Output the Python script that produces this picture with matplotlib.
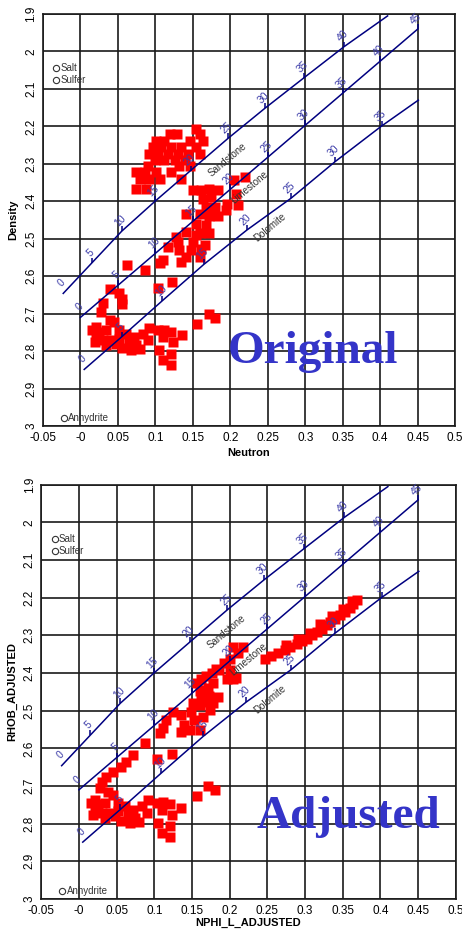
import matplotlib.pyplot as plt

plt.rcParams['font.family'] = ['Liberation Sans', 'DejaVu Sans']

####################
# lithology lines  #
####################
ss_lab = ['0', '5', '10', '15', '20', '25', '30', '35', '40', '']
ss_nphi = [-0.023, 0.015, 0.055, 0.0995, 0.147, 0.197, 0.246, 0.2985, 0.352, 0.41]
ss_rhob = [2.646, 2.565, 2.48, 2.40, 2.318, 2.232, 2.152, 2.07, 1.987, 1.905]

ls_lab = ['0', '5', '10', '15', '20', '25', '30', '35', '40', '45']
ls_nphi = [0.0, 0.05, 0.10, 0.15, 0.20, 0.25, 0.30, 0.35, 0.40, 0.45]
ls_rhob = [2.71, 2.6245, 2.539, 2.4535, 2.368, 2.2825, 2.197, 2.1115, 2.026, 1.9405]

dol_lab = ['0', '5', '10', '15', '20', '25', '30', '35', '']
dol_nphi = [0.005, 0.055, 0.109, 0.165, 0.222, 0.281, 0.340, 0.402, 0.451]
dol_rhob = [2.849, 2.762, 2.666, 2.568, 2.477, 2.392, 2.294, 2.199, 2.13]

lith_names = ['Sandstone', 'Limestone', 'Dolomite']
lith_nphi = [0.196, 0.225, 0.253]
lith_rhob = [2.29, 2.363, 2.469]

mineral_names = ['Salt', 'Sulfer', 'Anhydrite']
mineral_nphi = [-0.032, -0.032, -0.022]
mineral_rhob = [2.045, 2.076, 2.98]

####################
# original data    #
####################
upper_nphi = [0.154, 0.119, 0.129, 0.159, 0.101, 0.112, 0.146, 0.163, 0.097, 0.108,
              0.121, 0.134, 0.154, 0.092, 0.103, 0.117, 0.130, 0.143, 0.159, 0.099,
              0.112, 0.126, 0.139, 0.090, 0.132, 0.146, 0.074, 0.086, 0.101, 0.121,
              0.079, 0.092, 0.106, 0.134, 0.074, 0.088]
upper_rhob = [2.207, 2.220, 2.220, 2.220, 2.238, 2.238, 2.238, 2.238, 2.256, 2.256,
              2.256, 2.256, 2.256, 2.274, 2.274, 2.274, 2.274, 2.274, 2.274, 2.291,
              2.291, 2.291, 2.291, 2.305, 2.305, 2.305, 2.322, 2.322, 2.322, 2.322,
              2.340, 2.340, 2.340, 2.340, 2.367, 2.367]

mid_nphi = [0.150, 0.161, 0.172, 0.183, 0.219, 0.205, 0.210, 0.194, 0.163, 0.174,
            0.168, 0.179, 0.141, 0.159, 0.172, 0.183, 0.154, 0.168, 0.141, 0.159,
            0.172, 0.150, 0.166, 0.130, 0.117, 0.132, 0.141, 0.134, 0.159, 0.106,
            0.207, 0.195, 0.128, 0.154, 0.148, 0.110, 0.161, 0.062, 0.086, 0.122,
            0.103]
mid_rhob = [2.369, 2.371, 2.366, 2.371, 2.336, 2.342, 2.411, 2.423, 2.393, 2.389,
            2.415, 2.415, 2.433, 2.433, 2.438, 2.438, 2.460, 2.464, 2.482, 2.486,
            2.486, 2.509, 2.518, 2.509, 2.522, 2.531, 2.549, 2.562, 2.549, 2.566,
            2.380, 2.408, 2.496, 2.491, 2.531, 2.558, 2.527, 2.570, 2.584, 2.616,
            2.631]

arc_nphi = [0.039, 0.051, 0.056, 0.055, 0.030, 0.028]
arc_rhob = [2.634, 2.645, 2.660, 2.675, 2.672, 2.696]

# points below ~2.7 g/cc, same in both plots
low_nphi = [0.039, 0.045, 0.021, 0.025, 0.034, 0.021, 0.030, 0.041, 0.034, 0.052,
            0.061, 0.052, 0.065, 0.072, 0.074, 0.083, 0.092, 0.090, 0.103, 0.112,
            0.121, 0.110, 0.123, 0.136, 0.105, 0.121, 0.110, 0.121, 0.048, 0.016,
            0.019, 0.056, 0.068, 0.080, 0.156, 0.171, 0.180]
low_rhob = [2.716, 2.723, 2.736, 2.749, 2.745, 2.763, 2.771, 2.771, 2.785, 2.745,
            2.754, 2.767, 2.776, 2.763, 2.785, 2.754, 2.738, 2.771, 2.745, 2.743,
            2.749, 2.763, 2.776, 2.758, 2.798, 2.807, 2.825, 2.836, 2.780, 2.745,
            2.776, 2.792, 2.797, 2.795, 2.727, 2.700, 2.711]

####################
# adjusted data    #
####################
band_nphi = [0.2465, 0.2554, 0.2643, 0.2732, 0.2798, 0.2887, 0.2954, 0.302, 0.3087, 0.3153,
             0.322, 0.3287, 0.3331, 0.3398, 0.3464, 0.3531, 0.3597, 0.3642, 0.3686,
             0.2754, 0.2909, 0.3065, 0.3198, 0.3353, 0.3509, 0.362]
band_rhob = [2.3637, 2.3549, 2.3478, 2.339, 2.3301, 2.3239, 2.3151, 2.3089, 2.30, 2.2912,
             2.2823, 2.2735, 2.2646, 2.2558, 2.2469, 2.2381, 2.2266, 2.2177, 2.2062,
             2.3266, 2.3106, 2.2947, 2.2708, 2.2487, 2.2292, 2.2089]

adj_mid_nphi = [0.218, 0.211, 0.200, 0.193, 0.209, 0.196, 0.182, 0.176, 0.169, 0.162,
                0.156, 0.178, 0.171, 0.160, 0.173, 0.162, 0.151, 0.178, 0.204, 0.186,
                0.200, 0.164, 0.184, 0.204, 0.125, 0.116, 0.136, 0.149, 0.160, 0.171,
                0.140, 0.152, 0.165, 0.174, 0.136, 0.147, 0.160, 0.107, 0.112, 0.087,
                0.123, 0.103]
adj_mid_rhob = [2.330, 2.346, 2.364, 2.373, 2.412, 2.417, 2.390, 2.399, 2.408, 2.417,
                2.426, 2.426, 2.439, 2.448, 2.461, 2.470, 2.479, 2.479, 2.331, 2.393,
                2.393, 2.446, 2.464, 2.415, 2.503, 2.525, 2.512, 2.503, 2.485, 2.476,
                2.538, 2.525, 2.516, 2.498, 2.556, 2.551, 2.551, 2.560, 2.547, 2.585,
                2.615, 2.629]

adj_arc_nphi = [0.072, 0.063, 0.056, 0.045, 0.036, 0.030, 0.028]
adj_arc_rhob = [2.618, 2.635, 2.649, 2.662, 2.675, 2.689, 2.706]

xticks = [-0.05, 0, 0.05, 0.1, 0.15, 0.2, 0.25, 0.3, 0.35, 0.4, 0.45, 0.5]
xticklabels = ['-0.05', '-0', '0.05', '0.1', '0.15', '0.2', '0.25', '0.3', '0.35', '0.4', '0.45', '0.5']
yticks = [1.9, 2.0, 2.1, 2.2, 2.3, 2.4, 2.5, 2.6, 2.7, 2.8, 2.9, 3.0]
yticklabels = ['1.9', '2', '2.1', '2.2', '2.3', '2.4', '2.5', '2.6', '2.7', '2.8', '2.9', '3']

navy = '#000080'
labblue = '#3a3aa8'
tick_marker = [(0, 0), (0, 1)]


def draw_lith(ax, nphi, rhob, labs):
    ax.plot(nphi, rhob, color=navy, lw=1.1, zorder=4)
    for x, y, t in zip(nphi, rhob, labs):
        if t == '':
            continue
        if t != '0':
            ax.plot(x, y, ls='none', marker=tick_marker, ms=7, mec=navy, mew=1.1, zorder=4)
        ax.annotate(t, (x, y), xytext=(-1, 7.5), textcoords='offset points', rotation=45,
                    ha='center', va='center', fontsize=7.5, color=labblue, zorder=5)


def draw_panel(ax, pts, xlabel, ylabel, xlab_y, ylab_x, stamp, stamp_x, stamp_y):
    ax.set_xlim(-0.05, 0.5)
    ax.set_ylim(3.0, 1.9)
    ax.set_xticks(xticks)
    ax.set_xticklabels(xticklabels, fontsize=8.5)
    ax.set_yticks(yticks)
    ax.set_yticklabels(yticklabels, fontsize=8.5, rotation=90, va='center')
    ax.tick_params(length=0, pad=4)
    ax.grid(True, color='#1a1a1a', lw=1.2)
    ax.set_axisbelow(True)
    for s in ax.spines.values():
        s.set_linewidth(1.2)
        s.set_color('#1a1a1a')

    for xs, ys in pts:
        ax.plot(xs, ys, ls='none', marker='s', ms=7.5, color='#ff0000', mec='none', zorder=3)

    draw_lith(ax, ss_nphi, ss_rhob, ss_lab)
    draw_lith(ax, ls_nphi, ls_rhob, ls_lab)
    draw_lith(ax, dol_nphi, dol_rhob, dol_lab)
    for n, x, y in zip(lith_names, lith_nphi, lith_rhob):
        ax.text(x, y, n, rotation=40, ha='center', va='center', fontsize=7,
                color='#333333', zorder=5)
    for n, x, y in zip(mineral_names, mineral_nphi, mineral_rhob):
        ax.plot(x, y, ls='none', marker='o', ms=4.5, mfc='none', mec='#333333', mew=0.8, zorder=5)
        ax.annotate(n, (x, y), xytext=(3, 0), textcoords='offset points', ha='left',
                    va='center', fontsize=7, color='#333333')

    ax.text(stamp_x, stamp_y, stamp, family='Liberation Serif', fontweight='bold',
            fontsize=34, color='#3434c8', ha='left', va='baseline', zorder=6)

    ax.set_xlabel(xlabel, fontsize=8, fontweight='bold')
    ax.set_ylabel(ylabel, fontsize=8, fontweight='bold')
    ax.xaxis.set_label_coords(0.5, xlab_y)
    ax.yaxis.set_label_coords(ylab_x, 0.5)


fig = plt.figure(figsize=(4.62, 9.35), dpi=100)
ax1 = fig.add_axes([0.0931, 0.5444, 0.8918, 0.4406])
ax2 = fig.add_axes([0.0894, 0.0385, 0.897, 0.4431])

draw_panel(ax1,
           [(upper_nphi, upper_rhob), (mid_nphi, mid_rhob), (arc_nphi, arc_rhob), (low_nphi, low_rhob)],
           'Neutron', 'Density', -0.053, -0.061, 'Original', 0.197, 2.832)
draw_panel(ax2,
           [(band_nphi, band_rhob), (adj_mid_nphi, adj_mid_rhob), (adj_arc_nphi, adj_arc_rhob), (low_nphi, low_rhob)],
           'NPHI_L_ADJUSTED', 'RHOB_ADJUSTED', -0.046, -0.059, 'Adjusted', 0.236, 2.812)

fig.savefig('out.png', dpi=100)
